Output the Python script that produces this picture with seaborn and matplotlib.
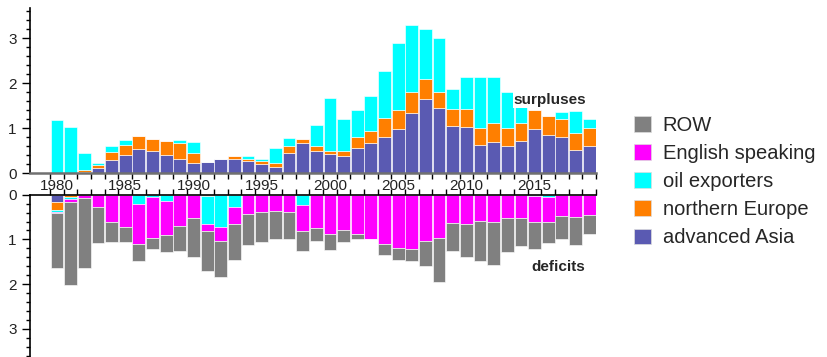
import numpy as np
import pandas as pd
import matplotlib
matplotlib.use('Agg')
import matplotlib.pyplot as plt
from matplotlib.patches import Patch
from matplotlib.ticker import MultipleLocator, FixedLocator
import seaborn as sns

years = list(range(1980, 2020))

# surpluses (stacked from zero upward)
sur_asia = [0.00, 0.00, 0.02, 0.11, 0.30, 0.40, 0.53, 0.49, 0.40, 0.32,
            0.22, 0.25, 0.31, 0.31, 0.26, 0.19, 0.13, 0.45, 0.66, 0.49,
            0.43, 0.38, 0.56, 0.67, 0.79, 0.98, 1.33, 1.65, 1.45, 1.05,
            1.02, 0.62, 0.70, 0.59, 0.72, 0.97, 0.84, 0.79, 0.51, 0.61]
sur_neur = [0.00, 0.00, 0.05, 0.06, 0.17, 0.22, 0.29, 0.27, 0.32, 0.35,
            0.22, 0.00, 0.00, 0.06, 0.05, 0.07, 0.09, 0.16, 0.10, 0.12,
            0.06, 0.12, 0.25, 0.27, 0.44, 0.41, 0.46, 0.45, 0.34, 0.37,
            0.40, 0.37, 0.42, 0.40, 0.40, 0.44, 0.43, 0.40, 0.37, 0.40]
sur_oil = [1.18, 1.02, 0.37, 0.05, 0.14, 0.11, 0.00, 0.00, 0.00, 0.06,
           0.26, 0.00, 0.00, 0.00, 0.06, 0.06, 0.33, 0.17, 0.00, 0.46,
           1.17, 0.71, 0.58, 0.77, 1.04, 1.50, 1.49, 1.11, 1.22, 0.44,
           0.71, 1.14, 1.01, 0.81, 0.45, 0.00, 0.00, 0.17, 0.49, 0.20]

# deficits (stacked from zero downward)
def_asia = [0.16] + [0.00] * 39
def_neur = [0.19, 0.05, 0.00, 0.00, 0.00, 0.00, 0.00, 0.00, 0.00, 0.00,
            0.00, 0.02] + [0.00] * 28
def_oil = [0.03, 0.04, 0.00, 0.00, 0.00, 0.00, 0.20, 0.06, 0.13, 0.00,
           0.00, 0.63, 0.72, 0.27, 0.00, 0.00, 0.00, 0.00, 0.23, 0.00,
           0.00, 0.00, 0.00, 0.00, 0.00, 0.00, 0.00, 0.00, 0.00, 0.00,
           0.00, 0.00, 0.00, 0.00, 0.00, 0.03, 0.05, 0.00, 0.00, 0.00]
def_eng = [0.04, 0.08, 0.07, 0.28, 0.61, 0.72, 0.90, 0.91, 0.77, 0.69,
           0.52, 0.16, 0.32, 0.39, 0.43, 0.39, 0.36, 0.39, 0.58, 0.75,
           0.87, 0.79, 0.89, 1.00, 1.10, 1.19, 1.22, 1.04, 0.97, 0.63,
           0.65, 0.58, 0.60, 0.52, 0.51, 0.57, 0.56, 0.47, 0.50, 0.46]
def_row = [1.21, 1.84, 1.57, 0.80, 0.44, 0.33, 0.39, 0.25, 0.38, 0.56,
           0.87, 0.90, 0.80, 0.80, 0.70, 0.66, 0.62, 0.60, 0.44, 0.29,
           0.37, 0.27, 0.10, 0.00, 0.24, 0.27, 0.26, 0.56, 0.99, 0.62,
           0.75, 0.90, 0.97, 0.76, 0.63, 0.62, 0.47, 0.52, 0.63, 0.43]

regions = ['ROW', 'English speaking', 'oil exporters', 'northern Europe', 'advanced Asia']
colors = ['#808080', '#ff00ff', '#00ffff', '#ff7f00', '#5a5ab2']
palette = dict(zip(regions, colors))

surplus = pd.DataFrame({'year': years, 'advanced Asia': sur_asia,
                        'northern Europe': sur_neur, 'oil exporters': sur_oil})
deficit = pd.DataFrame({'year': years, 'advanced Asia': def_asia,
                        'northern Europe': def_neur, 'oil exporters': def_oil,
                        'English speaking': def_eng, 'ROW': def_row})


def long_form(df):
    out = df.melt(id_vars='year', var_name='region', value_name='value')
    return out[out['value'] > 0]


sns.set_theme(style='ticks')
plt.rcParams['font.family'] = ['Liberation Sans', 'DejaVu Sans']

fig = plt.figure(figsize=(8.28, 3.57), dpi=100)
W, H = 828, 357
ax_top = fig.add_axes([30 / W, 184 / H, 566 / W, 165 / H])
ax_bot = fig.add_axes([30 / W, 0, 566 / W, 162.3 / H])

bar_kw = dict(x='year', weights='value', hue='region', palette=palette,
              multiple='stack', discrete=True, shrink=0.94, alpha=1,
              edgecolor=(1, 1, 1, 0.7), linewidth=0.6, legend=False)

sns.histplot(data=long_form(surplus), hue_order=[r for r in regions if r in surplus],
             ax=ax_top, **bar_kw)
sns.histplot(data=long_form(deficit), hue_order=regions, ax=ax_bot, **bar_kw)

x0, x1 = 1978.02, 2019.5
bounds = [y - 0.5 for y in years] + [years[-1] + 0.5]

for ax in (ax_top, ax_bot):
    ax.set_xlim(x0, x1)
    ax.set_xlabel('')
    ax.set_ylabel('')
    ax.spines['right'].set_visible(False)
    ax.yaxis.set_major_locator(FixedLocator([0, 1, 2, 3]))
    ax.yaxis.set_minor_locator(MultipleLocator(0.2))
    ax.tick_params(axis='y', which='major', length=5.5, width=1, pad=4,
                   labelsize=11, color='black', labelcolor='#222222')
    ax.tick_params(axis='y', which='minor', length=3, width=1, color='black')
    ax.spines['left'].set_color('black')
    ax.spines['left'].set_linewidth(1.2)
    ax.xaxis.set_minor_locator(FixedLocator(bounds))

ax_top.set_ylim(0, 3.667)
ax_top.spines['top'].set_visible(False)
ax_top.spines['bottom'].set_color('#707070')
ax_top.spines['bottom'].set_linewidth(1.8)
ax_top.set_xticks(range(1980, 2020, 5))
ax_top.tick_params(axis='x', which='major', length=0, pad=4.5, labelsize=11,
                   labelcolor='#222222')
ax_top.tick_params(axis='x', which='minor', length=4, width=1, color='black')

ax_bot.set_ylim(3.63, 0)
ax_bot.spines['bottom'].set_visible(False)
ax_bot.spines['top'].set_color('black')
ax_bot.spines['top'].set_linewidth(1.2)
ax_bot.xaxis.tick_top()
ax_bot.set_xticks([])
ax_bot.xaxis.set_minor_locator(FixedLocator(bounds))
ax_bot.tick_params(axis='x', which='minor', top=True, bottom=False,
                   length=4, width=1, color='black')

ax_top.text(2016.1, 1.62, 'surpluses', ha='center', va='center',
            fontsize=11, fontweight='bold',
            bbox=dict(fc='white', ec='none', pad=0.6))
ax_bot.text(2016.7, 1.62, 'deficits', ha='center', va='center',
            fontsize=11, fontweight='bold')

handles = [Patch(facecolor=palette[r], edgecolor='#dddddd', linewidth=0.5)
           for r in regions]
fig.legend(handles, regions, loc='upper left',
           bbox_to_anchor=(634 / W, 1 - 116 / H), frameon=False,
           fontsize=14.5, handlelength=0.82, handleheight=0.8,
           handletextpad=0.6, labelspacing=0.45, borderpad=0,
           borderaxespad=0)

fig.savefig('out.png', dpi=100)
